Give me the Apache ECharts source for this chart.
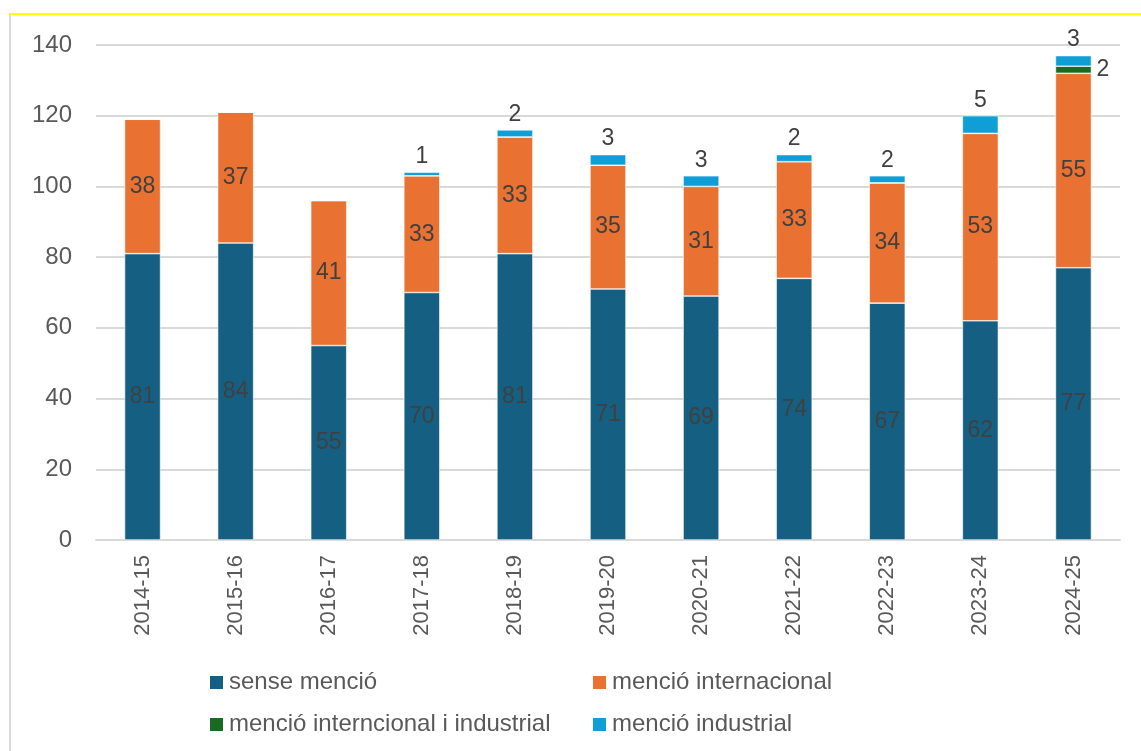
<!DOCTYPE html>
<html>
<head>
<meta charset="utf-8">
<script src="https://cdn.jsdelivr.net/npm/echarts@6/dist/echarts.min.js"></script>
<style>
  html, body { margin: 0; padding: 0; background: #fff; }
  #chart { width: 1141px; height: 751px; }
</style>
</head>
<body>
<div id="chart"></div>
<script>
// course years
const years = ['2014-15', '2015-16', '2016-17', '2017-18', '2018-19', '2019-20',
  '2020-21', '2021-22', '2022-23', '2023-24', '2024-25']

const senseMencio = [81, 84, 55, 70, 81, 71, 69, 74, 67, 62, 77]
const mencioInternacional = [38, 37, 41, 33, 33, 35, 31, 33, 34, 53, 55]
const mencioInternIndustrial = [0, 0, 0, 0, 0, 0, 0, 0, 0, 0, 2]
const mencioIndustrial = [0, 0, 0, 1, 2, 3, 3, 2, 2, 5, 3]

const yTicks = { min: 0, max: 140, interval: 20 }

const FONT = "'Liberation Sans', Arial, sans-serif"
const labelColor = '#404040'

const hideZero = (p) => (p.value > 0 ? String(p.value) : '')

const barSeries = (name, data, color, label) => ({
  name,
  type: 'bar',
  stack: 'total',
  barWidth: 36,
  data,
  itemStyle: { color, borderColor: '#ffffff', borderWidth: 0.6 },
  label: Object.assign({
    show: true,
    color: labelColor,
    fontSize: 23,
    fontFamily: FONT,
    formatter: hideZero,
  }, label),
})

const chart = echarts.init(document.getElementById('chart'))
chart.setOption({
  animation: false,
  backgroundColor: '#ffffff',
  textStyle: { fontFamily: FONT },
  graphic: [
    // frame bits visible in the screenshot
    { type: 'rect', shape: { x: 9, y: 13, width: 1132, height: 2 }, style: { fill: '#ffff00' }, silent: true },
    { type: 'rect', shape: { x: 9, y: 15, width: 2, height: 736 }, style: { fill: '#d9d9d9' }, silent: true },
  ],
  grid: { left: 96, right: 21, top: 45, bottom: 211 },
  legend: {
    left: 203,
    top: 661,
    width: 800,
    itemWidth: 15,
    itemHeight: 15,
    itemGap: 9,
    icon: 'rect',
    textStyle: { color: '#595959', fontSize: 24, fontFamily: FONT, width: 353, lineHeight: 33 },
    data: ['sense menció', 'menció internacional', 'menció interncional i industrial', 'menció industrial'],
  },
  xAxis: {
    type: 'category',
    data: years,
    axisLine: { lineStyle: { color: '#d9d9d9', width: 2 } },
    axisTick: { show: false },
    axisLabel: { rotate: 90, color: '#595959', fontSize: 22, margin: 15 },
  },
  yAxis: {
    type: 'value',
    min: yTicks.min,
    max: yTicks.max,
    interval: yTicks.interval,
    axisLine: { show: false },
    axisTick: { show: false },
    splitLine: { lineStyle: { color: '#d9d9d9', width: 2 } },
    axisLabel: { color: '#595959', fontSize: 24, margin: 24 },
  },
  series: [
    barSeries('sense menció', senseMencio, '#156082', { position: 'inside' }),
    barSeries('menció internacional', mencioInternacional, '#E97132', { position: 'inside' }),
    barSeries('menció interncional i industrial', mencioInternIndustrial, '#196B24', { position: 'right', distance: 5 }),
    barSeries('menció industrial', mencioIndustrial, '#0F9ED5', { position: 'top', distance: 4 }),
  ],
})
</script>
</body>
</html>
